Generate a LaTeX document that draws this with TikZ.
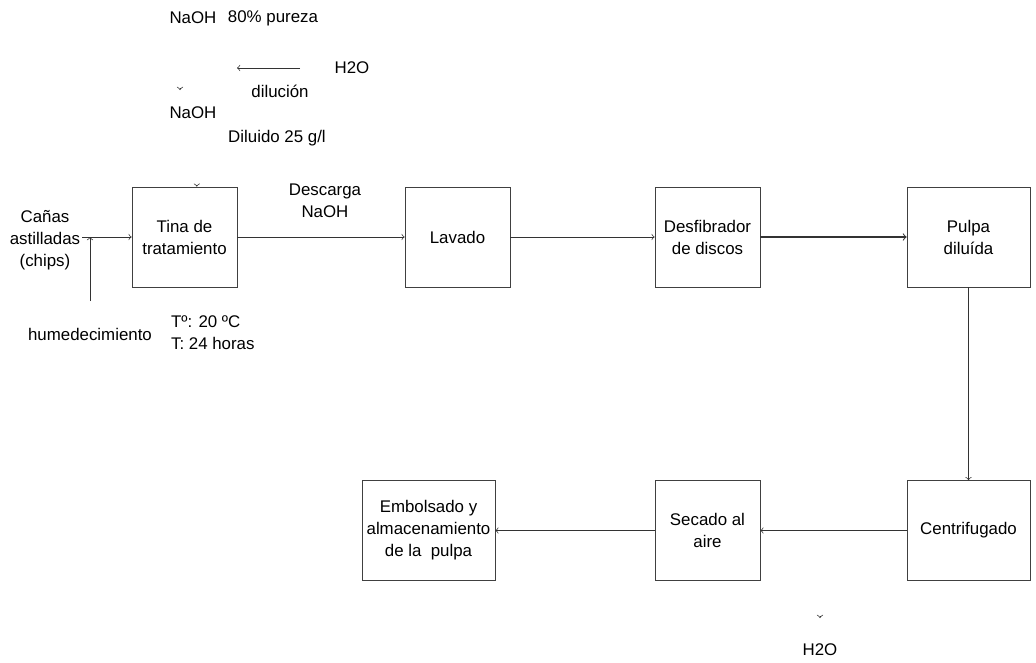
\documentclass[tikz,border=0pt]{standalone}
\usepackage{fontspec}
\setmainfont{Liberation Sans}
\usetikzlibrary{positioning}

\tikzset{caja/.style={draw=black!75, align=center, minimum height=2cm, minimum width=2.1cm, inner sep=2pt},
  txt/.style={align=center, inner sep=1pt},
  linea/.style={draw=black!80, ->}}

\begin{document}
\begin{tikzpicture}[x=0.02cm,y=-0.02cm, font=\fontsize{9.6}{12.5}\selectfont, >=to]
\useasboundingbox (0,0) rectangle (1036,663);
% cajas del proceso
\node[caja] (tina) at (184.5,237) {Tina de\\tratamiento};
\node[caja] (lavado) at (457.5,237) {Lavado};
\node[caja] (desfib) at (707.5,237) {Desfibrador\\de discos};
\node[caja, minimum width=2.46cm] (pulpa) at (968.5,237) {Pulpa\\diluída};
\node[caja, minimum width=2.46cm] (centrif) at (968.5,530.5) {Centrifugado};
\node[caja] (secado) at (707.5,530.5) {Secado al\\aire};
\node[caja, minimum width=2.66cm] (embols) at (428.5,530.5) {Embolsado y\\almacenamiento\\de la\ \ pulpa};

% textos
\node[txt] (naoh1) at (193,18) {NaOH};
\node[txt] (pureza) at (273,18) {80\% pureza};
\node[txt] (h2o1) at (352,68) {H2O};
\node[txt] (dil) at (280,91) {dilución};
\node[txt] (naoh2) at (193,113) {NaOH};
\node[txt] (diluido) at (277,138) {Diluido 25 g/l};
\node[txt] (canas) at (45,240) {Cañas\\astilladas\\(chips)};
\node[txt] (hum) at (90,334) {humedecimiento};
\node[txt, align=left, anchor=west] (temp) at (169,333) {Tº: 20 ºC\\T: 24 horas};
\node[txt] (descarga) at (325,201) {Descarga\\NaOH};
\node[txt] (h2o2) at (820,650) {H2O};

\coordinate (dilA) at (300,68);
\coordinate (dilB) at (237,68);
\coordinate (tickA) at (180,88);
\coordinate (tickB) at (180,90);
\coordinate (tickC) at (820,616);
\coordinate (tickD) at (820,618);

% flechas
\draw[linea] (dilA) -- (dilB);
\draw[linea] (tickA) -- (tickB);
\draw[linea] (tickC) -- (tickD);
\draw[linea] ([xshift=7pt,yshift=1pt]tina.north) -- ([xshift=7pt]tina.north);
\draw[linea] (canas.east |- tina.west) -- (tina.west);
\draw[linea] ([yshift=14pt]hum.north) -- (hum.north |- tina.west);
\draw[linea] (tina) -- (lavado);
\draw[linea] (lavado) -- (desfib);
\draw[linea, semithick] (desfib) -- (pulpa);
\draw[linea] (pulpa) -- (centrif);
\draw[linea] (centrif) -- (secado);
\draw[linea] (secado) -- (embols);
\end{tikzpicture}
\end{document}
